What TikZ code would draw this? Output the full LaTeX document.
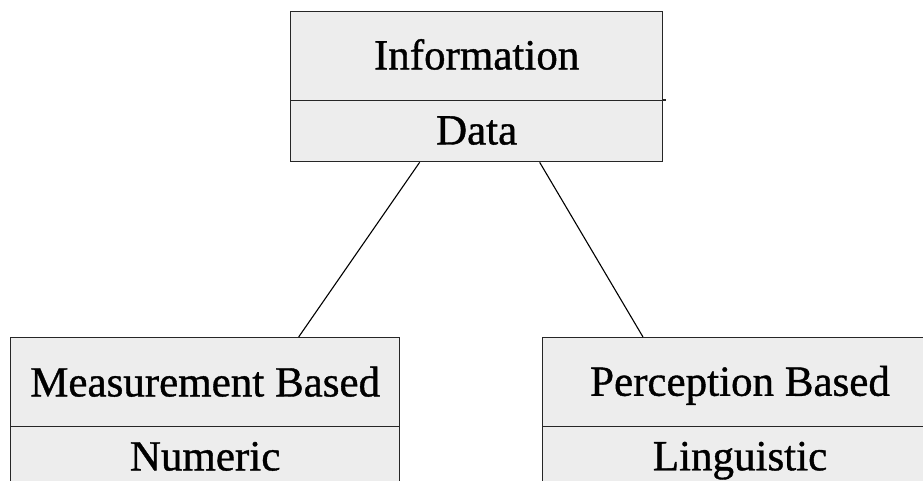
\documentclass[tikz,border=0pt]{standalone}
\usepackage{fontspec}
\setmainfont{Liberation Serif}[FakeBold=0.9]
\usetikzlibrary{calc}
\begin{document}
\begin{tikzpicture}[x=1pt,y=-1pt,
  part/.style={draw=black!85,fill=black!7,line width=1.3pt,inner sep=0pt,
    minimum width=#1,anchor=north west},
  lbl/.style={font=\fontsize{43}{47}\selectfont,text height=28.5pt,text depth=0pt,inner sep=0pt},
  conn/.style={draw=black,line width=1.1pt}]
\useasboundingbox (0,0) rectangle (923,480);
\clip (0,0) rectangle (923,480);
% top box
\node[part=372pt,minimum height=89pt] (infoT) at (290,11) {};
\node[part=372pt,minimum height=61pt] (infoB) at (290,100) {};
\draw[draw=black!85,line width=1.3pt] (infoB.north east) -- ++(2.5,0);
\node[lbl] (infoTL) at ($(infoT.center)+(0,-1)$) {Information};
\node[lbl] (infoBL) at ($(infoB.center)+(0,-1)$) {Data};
% bottom left
\node[part=389pt,minimum height=89pt] (measT) at (10,337) {};
\node[part=389pt,minimum height=61pt] (measB) at (10,426) {};
\node[lbl] (measTL) at (measT.center) {Measurement Based};
\node[lbl] (measBL) at ($(measB.center)+(0,-1)$) {Numeric};
% bottom right
\node[part=400pt,minimum height=89pt] (percT) at (542,337) {};
\node[part=400pt,minimum height=61pt] (percB) at (542,426) {};
\node[lbl] (percTL) at ($(percT.north west)+(198,44.5)$) {Perception Based};
\node[lbl] (percBL) at ($(percB.north west)+(198,30)$) {Linguistic};
% connectors
\draw[conn] ($(infoB.south)+(-57,0)$) -- ($(measT.north)+(93.5,0)$);
\draw[conn] ($(infoB.south)+(63,0)$) -- ($(percT.north west)+(101,0)$);
\end{tikzpicture}
\end{document}
